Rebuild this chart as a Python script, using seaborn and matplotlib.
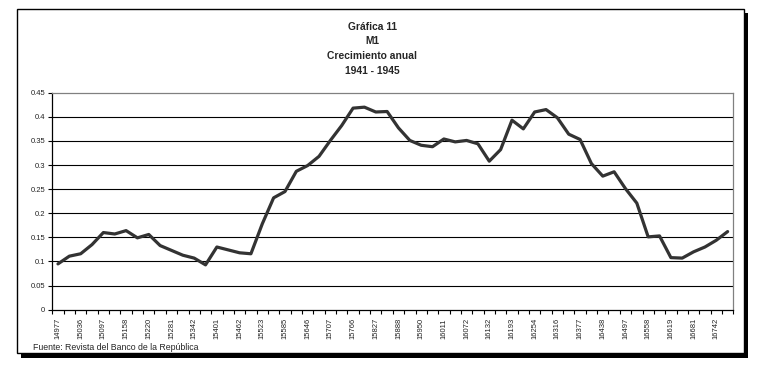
import numpy as np
import pandas as pd
import seaborn as sns
import matplotlib.pyplot as plt
from matplotlib.patches import Rectangle
from matplotlib.ticker import FixedLocator

# Excel date serials shown on the axis (every second month, 1941-1945)
tick_labels = [14977, 15036, 15097, 15158, 15220, 15281,
               15342, 15401, 15462, 15523, 15585, 15646,
               15707, 15766, 15827, 15888, 15950, 16011,
               16072, 16132, 16193, 16254, 16316, 16377,
               16438, 16497, 16558, 16619, 16681, 16742]

# monthly annual growth of M1, Jan 1941 - Dec 1945
growth = [0.095, 0.111, 0.116, 0.135, 0.160, 0.157, 0.164, 0.149, 0.156, 0.133,
          0.123, 0.113, 0.107, 0.093, 0.130, 0.124, 0.118, 0.116, 0.178, 0.232,
          0.245, 0.287, 0.299, 0.318, 0.351, 0.382, 0.418, 0.420, 0.410, 0.411,
          0.377, 0.351, 0.341, 0.338, 0.354, 0.348, 0.351, 0.344, 0.308, 0.332,
          0.393, 0.375, 0.410, 0.415, 0.398, 0.364, 0.353, 0.303, 0.277, 0.286,
          0.251, 0.221, 0.151, 0.153, 0.108, 0.107, 0.120, 0.130, 0.144, 0.162]

y_ticks = [0, 0.05, 0.1, 0.15, 0.2, 0.25, 0.3, 0.35, 0.4, 0.45]
y_labels = ["0", "0.05", "0.1", "0.15", "0.2", "0.25", "0.3", "0.35", "0.4", "0.45"]

df = pd.DataFrame({"mes": np.arange(len(growth)), "crecimiento": growth})

sns.set_style("white")
plt.rcParams["font.family"] = ["Liberation Sans", "DejaVu Sans"]

W, H = 766, 372
fig = plt.figure(figsize=(W / 100, H / 100), dpi=100)

# chart frame with shadow
fig.patches.append(Rectangle((21 / W, 1 - 357.5 / H), 727 / W, 344.5 / H,
                             transform=fig.transFigure, facecolor="black",
                             edgecolor="none", zorder=0))
fig.patches.append(Rectangle((17 / W, 1 - 352.7 / H), 727 / W, 343.4 / H,
                             transform=fig.transFigure, facecolor="white",
                             edgecolor="black", linewidth=1.0, zorder=1))

ax = fig.add_axes([52.3 / W, 1 - 309.7 / H, 681 / W, 217 / H])
ax.set_zorder(2)

sns.lineplot(data=df, x="mes", y="crecimiento", ax=ax, color="#333333",
             linewidth=2.3, legend=False)

ax.set_xlim(-0.5, len(growth) - 0.5)
ax.set_ylim(0, 0.45)

ax.set_yticks(y_ticks)
ax.set_yticklabels(y_labels)
for y in y_ticks[1:-1]:
    ax.axhline(y, color="black", linewidth=0.8, zorder=1)

ax.set_xticks(np.arange(0, len(growth), 2))
ax.set_xticklabels([str(t) for t in tick_labels], rotation=90)
ax.xaxis.set_minor_locator(FixedLocator(np.arange(-0.5, len(growth), 1)))
ax.tick_params(axis="x", which="major", length=0, labelsize=5.5, pad=6,
               labelcolor="#222222")
ax.tick_params(axis="x", which="minor", length=3, width=0.8, direction="out",
               color="black", bottom=True)
ax.tick_params(axis="y", length=3, width=0.8, direction="out", left=True,
               labelsize=5.5, pad=2, labelcolor="#222222", color="black")

ax.set_xlabel("")
ax.set_ylabel("")

for side in ["top", "right"]:
    ax.spines[side].set_color("#808080")
    ax.spines[side].set_linewidth(0.9)
for side in ["left", "bottom"]:
    ax.spines[side].set_color("black")
    ax.spines[side].set_linewidth(0.9)

title_lines = ["Gráfica 11", "M1", "Crecimiento anual", "1941 - 1945"]
for i, line in enumerate(title_lines):
    fig.text(372 / W, 1 - (27 + 14.5 * i) / H, line, ha="center", va="center",
             fontsize=7.4, fontweight="bold", zorder=3)

fig.text(33 / W, 1 - 348 / H, "Fuente: Revista del Banco de la República",
         ha="left", va="center", fontsize=6.3, zorder=3)

fig.savefig("out.png", dpi=100)
